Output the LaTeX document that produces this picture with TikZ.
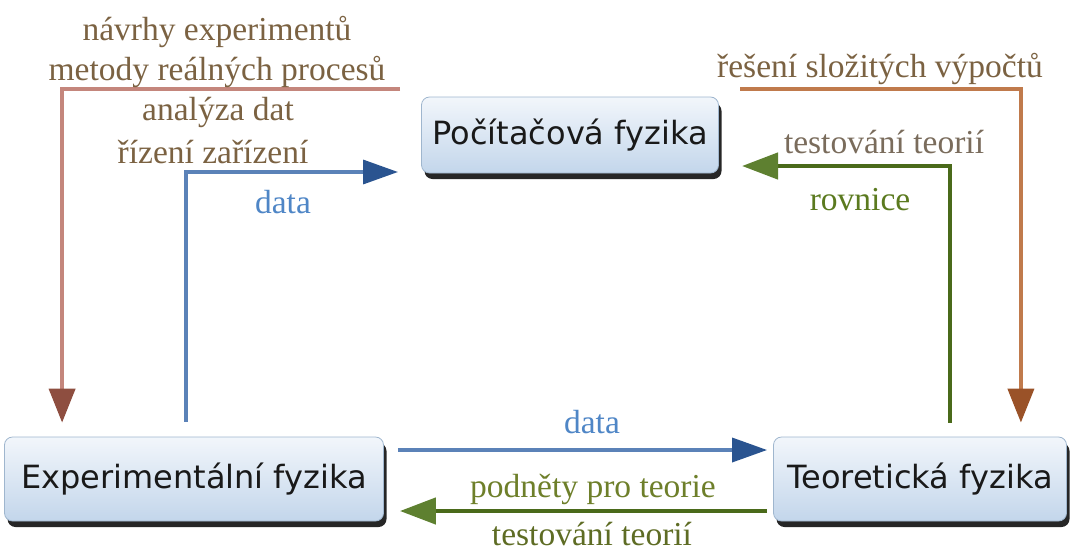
\documentclass[tikz,border=0pt]{standalone}
\usepackage{fontspec}
\setmainfont{Liberation Serif}
\newfontfamily\boxfont{DejaVu Sans}
\usetikzlibrary{arrows.meta,calc,shadows}
\definecolor{txtbrown}{HTML}{7B6242}
\definecolor{txtgray}{HTML}{7A6C5C}
\definecolor{txtgreen}{HTML}{5B7A1F}
\definecolor{txtolive}{HTML}{6E7F2A}
\definecolor{txtblue}{HTML}{4F86C6}
\definecolor{lnred}{HTML}{C4867C}
\definecolor{tipred}{HTML}{8E4E40}
\definecolor{lnorange}{HTML}{C07A4C}
\definecolor{tiporange}{HTML}{9A5228}
\definecolor{lnblue}{HTML}{5B82B8}
\definecolor{tipblue}{HTML}{2A5490}
\definecolor{lngreen}{HTML}{4A6A1A}
\definecolor{tipgreen}{HTML}{5E8030}
\definecolor{boxtop}{HTML}{F2F6FB}
\definecolor{boxbot}{HTML}{C3D6EB}
\definecolor{boxedge}{HTML}{9FB6CE}
\begin{document}
\begin{tikzpicture}[x=1pt,y=-1pt,
  fbox/.style={rounded corners=8pt, draw=boxedge, line width=0.8pt,
    top color=boxtop, bottom color=boxbot,
    drop shadow={shadow xshift=3pt, shadow yshift=-6pt, fill=black, opacity=0.85},
    inner sep=0pt, text=black!90,
    font=\boxfont\fontsize{32}{36}\selectfont},
  lbl/.style={anchor=base, inner sep=0pt, font=\fontsize{33.5}{40}\selectfont},
  conn/.style={line width=4pt},
  redln/.style={conn, draw=lnred, -{Triangle[length=34pt,width=26pt,color=tipred]}},
  orangeln/.style={conn, draw=lnorange, -{Triangle[length=34pt,width=26pt,color=tiporange]}},
  blueln/.style={conn, line width=3.5pt, draw=lnblue, -{Triangle[length=35pt,width=24pt,color=tipblue]}},
  greenln/.style={conn, line width=4.5pt, draw=lngreen, -{Triangle[length=36pt,width=26pt,color=tipgreen]}}
]
\useasboundingbox (0,0) rectangle (1073,552);

% boxes
\node[fbox, minimum width=297pt, minimum height=76pt] (comp) at (570,135) {Počítačová fyzika};
\node[fbox, minimum width=379pt, minimum height=84pt] (exp) at (194,479) {Experimentální fyzika};
\node[fbox, minimum width=293pt, minimum height=84pt] (teo) at (920,479) {Teoretická fyzika};

% free ends
\coordinate (redS) at (400,89);
\coordinate (blueE) at (398,172);
\coordinate (orS) at (740,89);
\coordinate (grE) at (742,166);

% connectors
\draw[redln] (redS) -| ([xshift=58pt,yshift=14pt]exp.north west);
\draw[blueln] ([xshift=182pt,yshift=15pt]exp.north west) |- (blueE);
\draw[orangeln] (orS) -| ([xshift=-46pt,yshift=14pt]teo.north east);
\draw[greenln] ([xshift=-117pt,yshift=14pt]teo.north east) |- (grE);
\draw[blueln] ([shift={(14,-29)}]exp.east) -- ([shift={(-6,-29)}]teo.west);
\draw[greenln] ([shift={(-6,32)}]teo.west) -- ([shift={(16,32)}]exp.east);

% labels
\node[lbl, text=txtbrown] (l1) at (217,40) {návrhy experimentů};
\node[lbl, text=txtbrown] (l2) at (217,80) {metody reálných procesů};
\node[lbl, text=txtbrown] (l3) at (218,120) {analýza dat};
\node[lbl, text=txtbrown] (l4) at (213,163) {řízení zařízení};
\node[lbl, text=txtblue] (l5) at (283,213) {data};
\node[lbl, text=txtbrown] (l6) at (880,77) {řešení složitých výpočtů};
\node[lbl, text=txtgray] (l7) at (884,153) {testování teorií};
\node[lbl, text=txtgreen] (l8) at (860,210) {rovnice};
\node[lbl, text=txtblue] (l9) at (592,433) {data};
\node[lbl, text=txtolive] (l10) at (593,497) {podněty pro teorie};
\node[lbl, text=txtolive!85!black] (l11) at (592,545) {testování teorií};
\end{tikzpicture}
\end{document}
